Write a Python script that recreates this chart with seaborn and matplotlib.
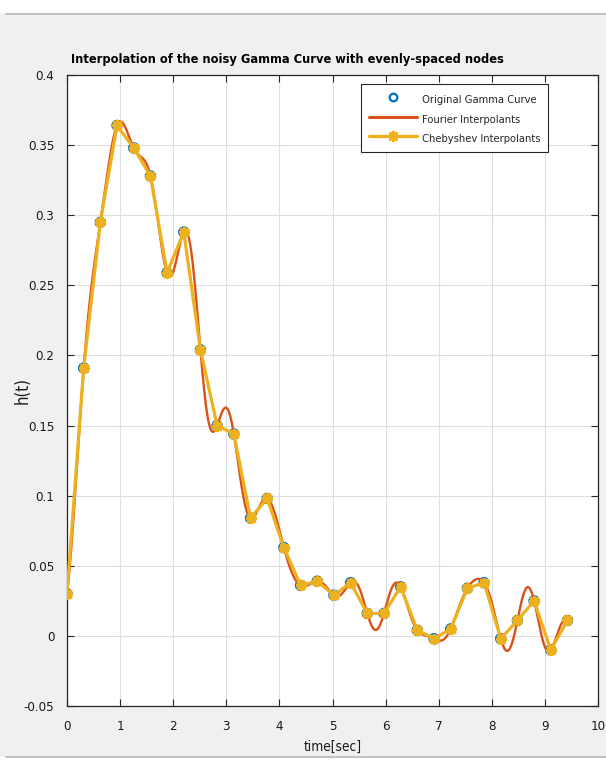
import numpy as np
import pandas as pd
import matplotlib
matplotlib.use("Agg")
import matplotlib.pyplot as plt
import seaborn as sns
from matplotlib import font_manager
from matplotlib.lines import Line2D
from matplotlib.patches import Rectangle

# ---------------- data ----------------
t_nodes = [0.000, 0.314, 0.628, 0.942, 1.257, 1.571, 1.885, 2.199, 2.513, 2.827,
           3.142, 3.456, 3.770, 4.084, 4.398, 4.712, 5.027, 5.341, 5.655, 5.969,
           6.283, 6.597, 6.912, 7.226, 7.540, 7.854, 8.168, 8.482, 8.796, 9.111,
           9.425]
h_nodes = [0.030, 0.191, 0.295, 0.364, 0.348, 0.328, 0.259, 0.288, 0.204, 0.150,
           0.144, 0.084, 0.098, 0.063, 0.036, 0.039, 0.029, 0.038, 0.016, 0.016,
           0.035, 0.004, -0.002, 0.005, 0.034, 0.038, -0.002, 0.011, 0.025, -0.010,
           0.011]
x_ticks = [0, 1, 2, 3, 4, 5, 6, 7, 8, 9, 10]
y_ticks = [-0.05, 0, 0.05, 0.1, 0.15, 0.2, 0.25, 0.3, 0.35, 0.4]
y_ticklabels = ["-0.05", "0", "0.05", "0.1", "0.15", "0.2", "0.25", "0.3", "0.35", "0.4"]
title = "Interpolation of the noisy Gamma Curve with evenly-spaced nodes"
labels = ["Original Gamma Curve", "Fourier Interpolants", "Chebyshev Interpolants"]

# ---------------- Fourier (trigonometric) interpolant of the nodes ----------------
tn = np.array(t_nodes)
hn = np.array(h_nodes)
N = len(hn)
step = (tn[-1] - tn[0]) / (N - 1)
T = N * step
c = np.fft.fft(hn) / N
k = np.fft.fftfreq(N, d=1.0 / N)
t_fine = np.linspace(tn[0], tn[-1], 1200)
h_fine = np.real(np.exp(2j * np.pi * np.outer(t_fine - tn[0], k) / T) @ c)

df_nodes = pd.DataFrame({"t": tn, "h": hn})
df_four = pd.DataFrame({"t": t_fine, "h": h_fine})

# ---------------- style ----------------
sns.set_theme(style="whitegrid")

# look for a narrow / condensed sans face (the reference uses a condensed Helvetica look)
narrow_reg = None
narrow_bold = None
for f in font_manager.fontManager.ttflist:
    nm = f.name.lower()
    st = str(f.stretch).lower()
    is_narrow = ("narrow" in nm or "condensed" in nm or "condensed" in st
                 or "narrow" in st)
    if not is_narrow or "mono" in nm or ("serif" in nm and "sans" not in nm):
        continue
    w = f.weight if isinstance(f.weight, int) else (700 if "bold" in str(f.weight) else 400)
    if f.style != "normal":
        continue
    if w >= 600 and narrow_bold is None:
        narrow_bold = f.fname
    if w < 600 and narrow_reg is None:
        narrow_reg = f.fname

fam = "Liberation Sans"
plt.rcParams["font.family"] = [fam, "DejaVu Sans"]
if narrow_reg:
    fp_reg = font_manager.FontProperties(fname=narrow_reg)
    scale = 1.0
else:
    fp_reg = font_manager.FontProperties(family=[fam, "DejaVu Sans"])
    scale = 0.9
if narrow_bold:
    fp_bold = font_manager.FontProperties(fname=narrow_bold)
    tscale = 1.0
else:
    fp_bold = font_manager.FontProperties(family=[fam, "DejaVu Sans"], weight="bold")
    tscale = 0.85

BG = "#f0f0f0"
BLUE = "#0072BD"
RED = "#D95319"
YEL = "#EDB120"
AX = "#262626"

fig = plt.figure(figsize=(6.06, 7.62), dpi=100, facecolor=BG)
W, H = 606, 762
ax = fig.add_axes([67 / W, 1 - 706 / H, (598 - 67) / W, (706 - 75) / H])
ax.set_facecolor("white")

# window frame decoration
fig.patches.append(Rectangle((0, 1 - 13 / H), 1, 13 / H, transform=fig.transFigure,
                             facecolor="white", edgecolor="none", zorder=-5))
fig.patches.append(Rectangle((0, 0), 1, 5 / H, transform=fig.transFigure,
                             facecolor="white", edgecolor="none", zorder=-5))
fig.lines.append(Line2D([6 / W, 1], [1 - 13.5 / H] * 2, transform=fig.transFigure,
                        color="#b8b8b8", lw=1.2))
fig.lines.append(Line2D([6 / W, 1], [5 / H] * 2, transform=fig.transFigure,
                        color="#b8b8b8", lw=1.2))

# ---------------- marks ----------------
sns.scatterplot(data=df_nodes, x="t", y="h", ax=ax, marker="o", s=48,
                facecolor="none", edgecolor=BLUE, linewidth=1.3, zorder=3,
                legend=False)
sns.lineplot(data=df_four, x="t", y="h", ax=ax, color=RED, lw=1.7, sort=False,
             zorder=4, legend=False)
sns.lineplot(data=df_nodes, x="t", y="h", ax=ax, color=YEL, lw=2.3, sort=False,
             marker=(8, 2, 0), markersize=8, markeredgewidth=2.2,
             markeredgecolor=YEL, zorder=5, legend=False)

# ---------------- axes ----------------
ax.set_xlim(0, 10)
ax.set_ylim(-0.05, 0.4)
ax.set_xticks(x_ticks)
ax.set_xticklabels([str(v) for v in x_ticks])
ax.set_yticks(y_ticks)
ax.set_yticklabels(y_ticklabels)
ax.grid(True, color="#dedede", lw=0.8)
ax.set_axisbelow(True)
for s in ax.spines.values():
    s.set_visible(True)
    s.set_color(AX)
    s.set_linewidth(0.9)
ax.tick_params(direction="in", length=5, width=0.8, color=AX,
               labelcolor="#1a1a1a", top=True, right=True, bottom=True, left=True)
ax.tick_params(axis="y", pad=9)
ax.tick_params(axis="x", pad=10)
for lab in ax.get_xticklabels() + ax.get_yticklabels():
    lab.set_fontproperties(fp_reg)
    lab.set_fontsize(9.5 * scale)

ax.set_xlabel("time[sec]", fontproperties=fp_reg, fontsize=9.8 * scale,
              color="#1a1a1a")
ax.xaxis.set_label_coords(0.5, (706 - 740) / 631)
ax.set_ylabel("h(t)", fontproperties=fp_reg, fontsize=12 * scale,
              color="#1a1a1a", va="center")
ax.yaxis.set_label_coords((23 - 67) / 531, 0.5)
fig.text(287 / W, 1 - 60 / H, title, ha="center", va="center",
         fontproperties=fp_bold, fontsize=9.2 * tscale, fontweight="bold",
         color="black")

handles = [
    Line2D([], [], color=BLUE, marker="o", ls="none", markerfacecolor="none",
           markersize=5.5, markeredgewidth=1.6),
    Line2D([], [], color=RED, lw=2.2),
    Line2D([], [], color=YEL, lw=2.4, marker=(8, 2, 0), markersize=8,
           markeredgewidth=1.8),
]
leg = ax.legend(handles, labels, loc="upper right",
                bbox_to_anchor=((548 - 67) / 531, (706 - 84) / 631),
                prop=fp_reg, frameon=True, fancybox=False, framealpha=1,
                edgecolor=AX, handlelength=2.9, handletextpad=0.3,
                labelspacing=0.35, borderpad=0.45, borderaxespad=0)
for txt in leg.get_texts():
    txt.set_fontsize(8.0 * scale)
leg.get_frame().set_linewidth(0.8)

fig.savefig("out.png", dpi=100, facecolor=BG)
